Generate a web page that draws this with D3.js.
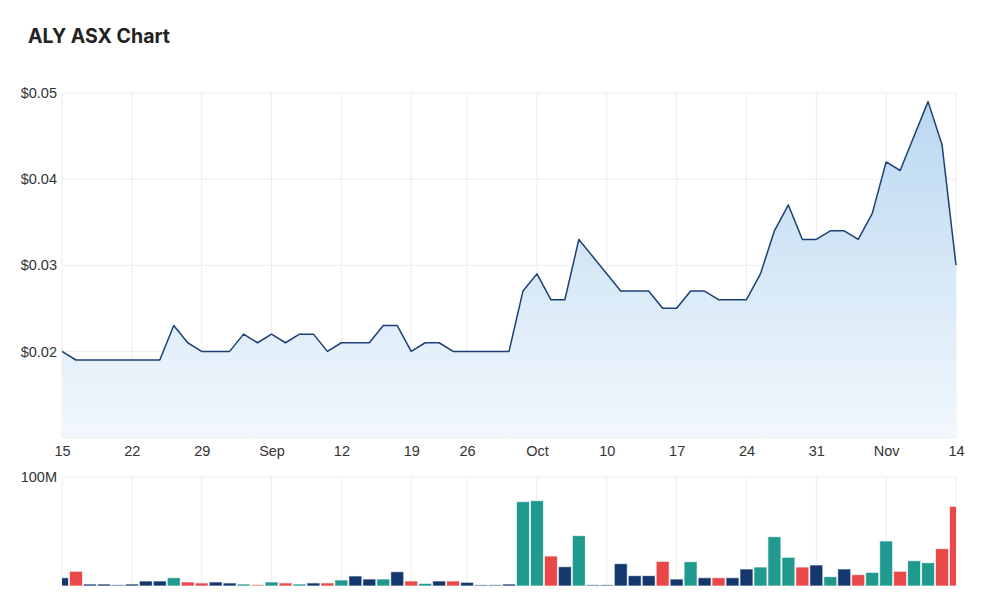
<!DOCTYPE html>
<html>
<head>
<meta charset="utf-8">
<script src="https://cdn.jsdelivr.net/npm/d3@7"></script>
<style>
  body { margin: 0; background: #fff; font-family: Inter, "Open Sans", sans-serif; }
  .tick text { fill: #333; font-size: 14.5px; }
</style>
</head>
<body>
<div id="chart"></div>
<script>
// trading days (ASX closed 22 Sep)
var days = [
  "08-15","08-16","08-17","08-18","08-19","08-22","08-23","08-24","08-25","08-26",
  "08-29","08-30","08-31","09-01","09-02","09-05","09-06","09-07","09-08","09-09",
  "09-12","09-13","09-14","09-15","09-16","09-19","09-20","09-21","09-23",
  "09-26","09-27","09-28","09-29","09-30","10-03","10-04","10-05","10-06","10-07",
  "10-10","10-11","10-12","10-13","10-14","10-17","10-18","10-19","10-20","10-21",
  "10-24","10-25","10-26","10-27","10-28","10-31","11-01","11-02","11-03","11-04",
  "11-07","11-08","11-09","11-10","11-11","11-14"
];

// close price, null = no trade
var price = [
  0.020,0.019,0.019,0.019,0.019,0.019,0.019,0.019,0.023,0.021,
  0.020,0.020,0.020,0.022,0.021,0.022,0.021,0.022,0.022,0.020,
  0.021,0.021,0.021,0.023,0.023,0.020,0.021,0.021,0.020,
  0.020,0.020,0.020,0.020,0.027,0.029,0.026,0.026,0.033,null,
  null,0.027,0.027,0.027,0.025,0.025,0.027,0.027,0.026,0.026,
  0.026,0.029,0.034,0.037,0.033,0.033,0.034,0.034,0.033,0.036,
  0.042,0.041,0.045,0.049,0.044,0.030
];

// volume in millions
var volume = [
  7.6,13.5,1.8,1.8,1.1,1.8,4.6,4.6,7.6,3.7,
  2.8,3.7,2.8,1.8,1.2,3.7,2.8,1.8,2.8,2.8,
  5.5,9.2,6.4,6.4,13.1,4.6,2.4,4.6,4.6,
  3.4,1.1,1.1,1.8,77.4,78.3,27.5,17.7,46.2,1.1,
  1.1,20.5,9.5,9.5,22.6,6.4,22.3,7.6,7.6,7.6,
  15.6,17.4,45.2,26.3,17.4,19.3,8.6,15.6,10.4,12.5,
  41.3,13.5,23.2,21.4,34.3,73.1
];

// u = up, d = down, n = unchanged
var moves = [
  "n","d","n","n","n","n","n","n","u","d",
  "d","n","n","u","d","u","d","u","n","d",
  "u","n","n","u","n","d","u","n","d",
  "n","n","n","n","u","u","d","n","u","n",
  "n","n","n","n","d","n","u","n","d","n",
  "n","u","u","u","d","n","u","n","d","u",
  "u","d","u","u","d","d"
];

var tickDays = ["08-15","08-22","08-29","09-05","09-12","09-19","09-26","10-03","10-10","10-17","10-24","10-31","11-07","11-14"];
var tickLabels = ["15","22","29","Sep","12","19","26","Oct","10","17","24","31","Nov","14"];
var priceTicks = [0.02, 0.03, 0.04, 0.05];
var volTicks = [100];

var W = 1000, H = 614;
var left = 62, right = 956;
var pTop = 93, pBottom = 437.5;
var vTop = 477, vBottom = 586;

var colors = { u: "#209a8f", d: "#e84848", n: "#14386d" };

var svg = d3.select("#chart").append("svg")
    .attr("width", W)
    .attr("height", H)
    .style("font-family", "Inter, 'Open Sans', sans-serif");

svg.append("text")
    .attr("x", 28)
    .attr("y", 43)
    .attr("fill", "#222")
    .style("font-size", "19.5px")
    .style("font-weight", "700")
    .text("ALY ASX Chart");

// scales
var x = d3.scalePoint().domain(days).range([left, right]);
var y = d3.scaleLinear().domain([0.01, 0.05]).range([pBottom, pTop]);
var yv = d3.scaleLinear().domain([0, 100]).range([vBottom, vTop]);

var defs = svg.append("defs");
var grad = defs.append("linearGradient")
    .attr("id", "areaGrad")
    .attr("gradientUnits", "userSpaceOnUse")
    .attr("x1", 0).attr("y1", pTop)
    .attr("x2", 0).attr("y2", pBottom);
grad.append("stop").attr("offset", "0%").attr("stop-color", "#b9d7f0");
grad.append("stop").attr("offset", "100%").attr("stop-color", "#f2f8fd");

defs.append("clipPath").attr("id", "volClip")
    .append("rect")
    .attr("x", left).attr("y", vTop - 2)
    .attr("width", right - left).attr("height", vBottom - vTop + 4);

// ===== price panel =====
// grid
svg.append("g")
    .selectAll("line")
    .data(tickDays)
    .enter().append("line")
    .attr("x1", function (d) { return x(d); })
    .attr("x2", function (d) { return x(d); })
    .attr("y1", pTop)
    .attr("y2", pBottom)
    .attr("stroke", "#ececf0");

svg.append("g")
    .selectAll("line")
    .data(priceTicks)
    .enter().append("line")
    .attr("x1", left)
    .attr("x2", right)
    .attr("y1", function (d) { return y(d); })
    .attr("y2", function (d) { return y(d); })
    .attr("stroke", "#ececec");

svg.append("line")
    .attr("x1", left).attr("x2", right)
    .attr("y1", pBottom).attr("y2", pBottom)
    .attr("stroke", "#e3e3e3");

// area + line, skipping days with no trade
var pts = days.map(function (d, i) { return { day: d, p: price[i] }; })
    .filter(function (d) { return d.p != null; });

var area = d3.area()
    .x(function (d) { return x(d.day); })
    .y0(pBottom)
    .y1(function (d) { return y(d.p); });

var line = d3.line()
    .x(function (d) { return x(d.day); })
    .y(function (d) { return y(d.p); });

svg.append("path")
    .datum(pts)
    .attr("d", area)
    .attr("fill", "url(#areaGrad)");

svg.append("path")
    .datum(pts)
    .attr("d", line)
    .attr("fill", "none")
    .attr("stroke", "#1c3f75")
    .attr("stroke-width", 1.5)
    .attr("stroke-linejoin", "round");

// y axis (price)
var yAxisCall = d3.axisLeft(y)
    .tickValues(priceTicks)
    .tickSize(0)
    .tickPadding(5)
    .tickFormat(function (d) { return "$" + d.toFixed(2); });
var yAx = svg.append("g")
    .attr("transform", "translate(" + left + ",0)")
    .call(yAxisCall);
yAx.select(".domain").remove();

// x axis
var xAxisCall = d3.axisBottom(x)
    .tickValues(tickDays)
    .tickSize(0)
    .tickPadding(8)
    .tickFormat(function (d, i) { return tickLabels[i]; });
var xAx = svg.append("g")
    .attr("transform", "translate(0," + pBottom + ")")
    .call(xAxisCall);
xAx.select(".domain").remove();

// ===== volume panel =====
svg.append("g")
    .selectAll("line")
    .data(tickDays)
    .enter().append("line")
    .attr("x1", function (d) { return x(d); })
    .attr("x2", function (d) { return x(d); })
    .attr("y1", vTop)
    .attr("y2", vBottom)
    .attr("stroke", "#ececf0");

svg.append("g")
    .selectAll("line")
    .data(volTicks)
    .enter().append("line")
    .attr("x1", left)
    .attr("x2", right)
    .attr("y1", function (d) { return yv(d); })
    .attr("y2", function (d) { return yv(d); })
    .attr("stroke", "#ececec");

var barW = 13;
svg.append("g")
    .attr("clip-path", "url(#volClip)")
    .selectAll("rect")
    .data(volume)
    .enter().append("rect")
    .attr("x", function (d, i) { return x(days[i]) - barW / 2; })
    .attr("y", function (d) { return yv(d); })
    .attr("width", barW)
    .attr("height", function (d) { return vBottom - yv(d); })
    .attr("fill", function (d, i) { return colors[moves[i]]; })
    .attr("stroke", "#ffffff")
    .attr("stroke-opacity", 0.7)
    .attr("stroke-width", 1);

var yvAxisCall = d3.axisLeft(yv)
    .tickValues(volTicks)
    .tickSize(0)
    .tickPadding(5)
    .tickFormat(function (d) { return d + "M"; });
var yvAx = svg.append("g")
    .attr("transform", "translate(" + left + ",0)")
    .call(yvAxisCall);
yvAx.select(".domain").remove();
</script>
</body>
</html>
